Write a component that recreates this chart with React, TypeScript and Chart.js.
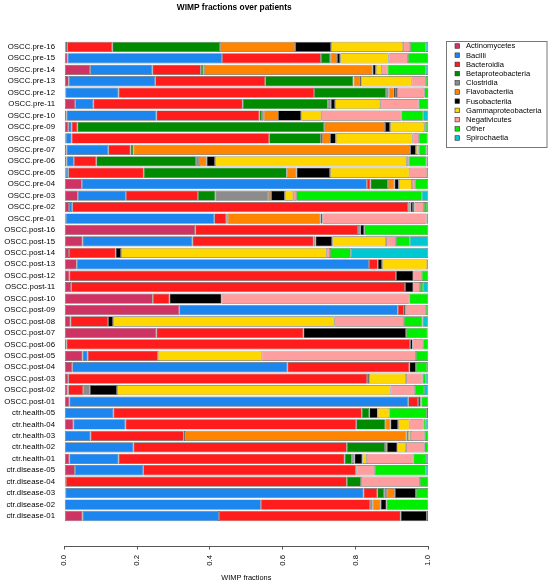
import { useEffect, useRef } from "react";
import { Chart, registerables } from "chart.js";
import type { Plugin } from "chart.js";

Chart.register(...registerables);

// rows, top to bottom as drawn
const samples = [
  "OSCC.pre-16", "OSCC.pre-15", "OSCC.pre-14", "OSCC.pre-13", "OSCC.pre-12", "OSCC.pre-11",
  "OSCC.pre-10", "OSCC.pre-09", "OSCC.pre-08", "OSCC.pre-07", "OSCC.pre-06", "OSCC.pre-05",
  "OSCC.pre-04", "OSCC.pre-03", "OSCC.pre-02", "OSCC.pre-01",
  "OSCC.post-16", "OSCC.post-15", "OSCC.post-14", "OSCC.post-13", "OSCC.post-12", "OSCC.post-11",
  "OSCC.post-10", "OSCC.post-09", "OSCC.post-08", "OSCC.post-07", "OSCC.post-06", "OSCC.post-05",
  "OSCC.post-04", "OSCC.post-03", "OSCC.post-02", "OSCC.post-01",
  "ctr.health-05", "ctr.health-04", "ctr.health-03", "ctr.health-02", "ctr.health-01",
  "ctr.disease-05", "ctr.disease-04", "ctr.disease-03", "ctr.disease-02", "ctr.disease-01",
];

const taxa = [
  "Actinomycetes", "Bacilli", "Bacteroidia", "Betaproteobacteria", "Clostridia", "Flavobacteriia",
  "Fusobacteriia", "Gammaproteobacteria", "Negativicutes", "Other", "Spirochaetia",
];

const taxonColors = [
  "#CD3363", "#1C86EE", "#FF1C1C", "#008B00", "#8C8C8C", "#FF8400",
  "#000000", "#FFD700", "#FF9E9E", "#00EE00", "#00C8D2",
];

// fractions per sample (same order as samples)
const actinomycetes = [
  0.004, 0.009, 0.071, 0.012, 0.003, 0.030, 0.006, 0.011, 0.004, 0.006, 0.006, 0.004, 0.048, 0.037, 0.013, 0.004,
  0.359, 0.050, 0.013, 0.034, 0.014, 0.019, 0.243, 0.316, 0.017, 0.253, 0.006, 0.050, 0.022, 0.011, 0.009, 0.014,
  0, 0.025, 0, 0, 0.014,
  0.029, 0.004, 0.003, 0.002, 0.050,
];
const bacilli = [
  0.004, 0.424, 0.171, 0.238, 0.146, 0.050, 0.247, 0.009, 0.016, 0.115, 0.020, 0.007, 0.783, 0.132, 0.009, 0.408,
  0.001, 0.302, 0, 0.803, 0, 0, 0, 0.600, 0, 0, 0, 0.014, 0.591, 0, 0.002, 0.931,
  0.135, 0.143, 0.072, 0.190, 0.135,
  0.188, 0, 0.819, 0.538, 0.375,
];
const bacteroidia = [
  0.124, 0.272, 0.133, 0.302, 0.537, 0.410, 0.283, 0.016, 0.543, 0.061, 0.062, 0.207, 0.010, 0.198, 0.923, 0.033,
  0.447, 0.333, 0.128, 0.024, 0.897, 0.917, 0.046, 0.017, 0.103, 0.404, 0.944, 0.193, 0.335, 0.821, 0.041, 0.027,
  0.682, 0.634, 0.256, 0.586, 0.621,
  0.584, 0.772, 0.038, 0.300, 0.499,
];
const betaproteobacteria = [
  0.296, 0.025, 0.007, 0.242, 0.198, 0.234, 0.007, 0.678, 0.142, 0.008, 0.274, 0.393, 0.048, 0.048, 0, 0.004,
  0, 0, 0, 0, 0, 0, 0, 0, 0, 0, 0, 0, 0, 0, 0, 0,
  0.021, 0.080, 0.004, 0.105, 0.020,
  0.002, 0.039, 0.019, 0, 0,
];
const clostridia = [
  0, 0.002, 0.002, 0.001, 0.007, 0.006, 0.005, 0, 0.003, 0, 0.008, 0, 0, 0.145, 0, 0,
  0.006, 0.005, 0, 0, 0, 0, 0, 0, 0, 0, 0, 0, 0, 0, 0.018, 0,
  0, 0, 0, 0, 0.007,
  0, 0, 0.008, 0.007, 0,
];
const flavobacteriia = [
  0.206, 0.017, 0.463, 0.017, 0.014, 0.002, 0.039, 0.167, 0.022, 0.760, 0.021, 0.027, 0.018, 0.008, 0.006, 0.255,
  0, 0, 0, 0, 0, 0, 0, 0, 0, 0, 0, 0, 0, 0, 0, 0,
  0, 0.014, 0.608, 0.005, 0,
  0, 0, 0.021, 0.022, 0,
];
const fusobacteriia = [
  0.099, 0.009, 0.009, 0.004, 0.006, 0.012, 0.064, 0.014, 0.016, 0.016, 0.023, 0.092, 0.012, 0.038, 0.007, 0.005,
  0.011, 0.046, 0.015, 0.012, 0.048, 0.023, 0.143, 0.005, 0.014, 0.282, 0.007, 0, 0.018, 0.005, 0.075, 0.006,
  0.023, 0.021, 0.004, 0.029, 0.022,
  0, 0, 0.058, 0.016, 0.072,
];
const gammaproteobacteria = [
  0.198, 0.133, 0.016, 0.138, 0.003, 0.124, 0.055, 0.094, 0.211, 0.007, 0.527, 0.218, 0.036, 0.023, 0.004, 0,
  0, 0.148, 0.565, 0.124, 0, 0, 0, 0, 0.609, 0, 0, 0.285, 0, 0.102, 0.751, 0,
  0.032, 0.031, 0.008, 0.024, 0.012,
  0, 0, 0, 0, 0,
];
const negativicutes = [
  0.019, 0.053, 0.016, 0.039, 0.075, 0.105, 0.220, 0.004, 0.017, 0.002, 0.005, 0.049, 0.009, 0.008, 0.026, 0.286,
  0, 0.027, 0.009, 0, 0.023, 0.018, 0.516, 0.055, 0.190, 0, 0.029, 0.424, 0, 0.045, 0.067, 0.003,
  0, 0.039, 0.038, 0.050, 0.128,
  0.050, 0.162, 0, 0, 0,
];
const other = [
  0.043, 0.055, 0.105, 0.006, 0.012, 0.026, 0.060, 0.007, 0.024, 0.020, 0.049, 0.003, 0.036, 0.345, 0.009, 0.005,
  0.176, 0.038, 0.057, 0.003, 0.018, 0.009, 0.052, 0.007, 0.051, 0.059, 0.014, 0.034, 0.031, 0.009, 0.025, 0.019,
  0.103, 0.006, 0.010, 0.011, 0.035,
  0.140, 0.023, 0.034, 0.115, 0.004,
];
const spirochaetia = [
  0.007, 0.001, 0.007, 0.001, 0, 0.002, 0.014, 0, 0.002, 0.005, 0.005, 0, 0, 0.018, 0.003, 0,
  0, 0.051, 0.213, 0, 0, 0.014, 0, 0, 0.016, 0.002, 0, 0, 0.003, 0.007, 0.012, 0,
  0.004, 0.007, 0, 0, 0.006,
  0.007, 0, 0, 0, 0,
];

const seriesValues = [
  actinomycetes, bacilli, bacteroidia, betaproteobacteria, clostridia, flavobacteriia,
  fusobacteriia, gammaproteobacteria, negativicutes, other, spirochaetia,
];

const xTicks = [0, 0.2, 0.4, 0.6, 0.8, 1.0];

const FONT = '"Liberation Sans", Arial, Helvetica, sans-serif';

// plot region edges in canvas px (matches the R figure)
const PLOT_LEFT = 64.3;
const PLOT_RIGHT = 428.3;
const PLOT_TOP = 16.9;
const PLOT_BOTTOM = 546;
const W = 550;
const H = 585;

// title + boxed legend, drawn like R's legend()
const decorations: Plugin<"bar"> = {
  id: "decorations",
  afterDraw(chart) {
    const ctx = chart.ctx;
    ctx.save();
    ctx.fillStyle = "#000";
    ctx.font = `bold 8.4px ${FONT}`;
    ctx.textAlign = "center";
    ctx.textBaseline = "middle";
    ctx.fillText("WIMP fractions over patients", 234.2, 7.7);

    ctx.strokeStyle = "#777";
    ctx.lineWidth = 1;
    ctx.strokeRect(446.5, 41.5, 100.5, 106);

    ctx.font = `7.6px ${FONT}`;
    ctx.textAlign = "left";
    chart.data.datasets.forEach((ds, i) => {
      const y = 46 + i * 9.2;
      ctx.fillStyle = ds.backgroundColor as string;
      ctx.fillRect(455, y - 2.3, 4.6, 4.6);
      ctx.strokeStyle = "#333";
      ctx.lineWidth = 0.6;
      ctx.strokeRect(455, y - 2.3, 4.6, 4.6);
      ctx.fillStyle = "#000";
      ctx.fillText(String(ds.label ?? ""), 466, y + 0.4);
    });
    ctx.restore();
  },
};

export default function App() {
  const canvasRef = useRef<HTMLCanvasElement | null>(null);

  useEffect(() => {
    if (!canvasRef.current) return;
    Chart.defaults.font.family = FONT;

    const chart = new Chart(canvasRef.current, {
      type: "bar",
      data: {
        datasets: taxa.map((name, k) => ({
          label: name,
          data: seriesValues[k].map((v, i) => ({ x: v, y: i })),
          backgroundColor: taxonColors[k],
          borderColor: "#6a6a6a",
          borderWidth: 0.7,
          borderSkipped: false,
          barPercentage: 0.9,
          categoryPercentage: 1,
        })),
      },
      options: {
        indexAxis: "y",
        animation: false,
        responsive: true,
        maintainAspectRatio: false,
        layout: { padding: { top: PLOT_TOP, right: W - PLOT_RIGHT, bottom: 0, left: 0 } },
        plugins: {
          legend: { display: false },
          title: { display: false },
          tooltip: { enabled: false },
        },
        scales: {
          x: {
            type: "linear",
            stacked: true,
            min: 0,
            max: 1,
            afterFit: (s: any) => { s.height = H - PLOT_BOTTOM; },
            afterBuildTicks: (s: any) => { s.ticks = xTicks.map((value) => ({ value })); },
            ticks: {
              callback: (v: any) => Number(v).toFixed(1),
              minRotation: 90,
              maxRotation: 90,
              padding: 5.5,
              color: "#000",
              font: { size: 7.7 },
            },
            grid: { drawOnChartArea: false, drawTicks: true, tickLength: 3.5, color: "#555" },
            border: { color: "#555" },
            title: {
              display: true,
              text: "WIMP fractions",
              color: "#000",
              font: { size: 7.4 },
              padding: { top: 0, bottom: 3 },
            },
          },
          y: {
            type: "linear",
            reverse: true,
            stacked: true,
            min: -2.12,
            max: samples.length + 1.12,
            afterFit: (s: any) => { s.width = PLOT_LEFT; },
            grid: { display: false, drawTicks: false },
            border: { display: false },
            ticks: {
              stepSize: 1,
              autoSkip: false,
              includeBounds: false,
              padding: 9.3,
              color: "#000",
              font: { size: 7.8 },
              callback: (v: any) =>
                Number.isInteger(v) && v >= 0 && v < samples.length ? samples[v] : "",
            },
          },
        },
      },
      plugins: [decorations],
    });

    return () => chart.destroy();
  }, []);

  return (
    <div style={{ position: "fixed", left: 0, top: 0, width: W, height: H, background: "#fff" }}>
      <canvas ref={canvasRef} />
    </div>
  );
}
